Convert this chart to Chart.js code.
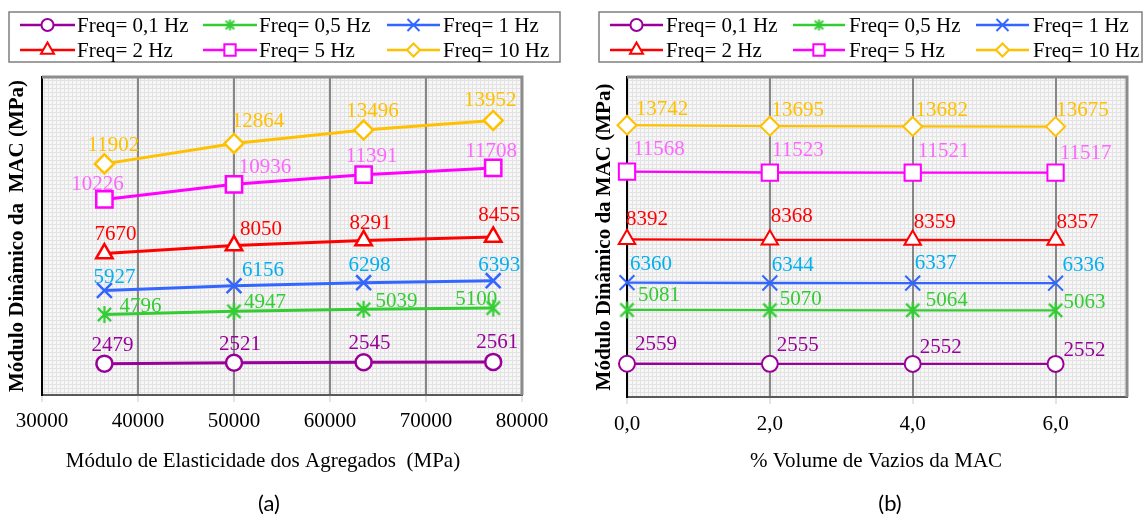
<!DOCTYPE html>
<html>
<head>
<meta charset="utf-8">
<script src="https://cdn.jsdelivr.net/npm/chart.js@4.4.0/dist/chart.umd.min.js"></script>
<style>
  html, body { margin: 0; padding: 0; background: #fff; }
  body { width: 1144px; height: 517px; position: relative; overflow: hidden; }
  .panel { position: absolute; top: 0; width: 572px; height: 490px; }
  #panelA { left: 0; }
  #panelB { left: 572px; }
  .caption { position: absolute; top: 490px; width: 100px; text-align: center; line-height: 26px;
             font-family: Lato, 'Open Sans', sans-serif; font-size: 22px; color: #000; }
</style>
</head>
<body>
<div class="panel" id="panelA"><canvas id="chartA" width="572" height="490"></canvas></div>
<div class="panel" id="panelB"><canvas id="chartB" width="572" height="490"></canvas></div>
<div class="caption" style="left:219px">(a)</div>
<div class="caption" style="left:840px">(b)</div>
<script>
const seriesNames = ['Freq= 0,1 Hz', 'Freq= 0,5 Hz', 'Freq= 1 Hz', 'Freq= 2 Hz', 'Freq= 5 Hz', 'Freq= 10 Hz'];

// (a) modulo dinamico x modulo dos agregados
const aggregateModulus = [36500, 50000, 63500, 77000];
const freq01A = [2479, 2521, 2545, 2561];
const freq05A = [4796, 4947, 5039, 5100];
const freq1A = [5927, 6156, 6298, 6393];
const freq2A = [7670, 8050, 8291, 8455];
const freq5A = [10226, 10936, 11391, 11708];
const freq10A = [11902, 12864, 13496, 13952];
const xTicksA = [30000, 40000, 50000, 60000, 70000, 80000];

// (b) modulo dinamico x volume de vazios
const voidVolume = [0, 2, 4, 6];
const freq01B = [2559, 2555, 2552, 2552];
const freq05B = [5081, 5070, 5064, 5063];
const freq1B = [6360, 6344, 6337, 6336];
const freq2B = [8392, 8368, 8359, 8357];
const freq5B = [11568, 11523, 11521, 11517];
const freq10B = [13742, 13695, 13682, 13675];
const xTicksB = [0, 2, 4, 6];
const xTickLabelsB = ['0,0', '2,0', '4,0', '6,0'];

const fontSerif = "'Liberation Serif', 'Times New Roman', serif";

// label offsets (dx, dy) from each point, per series
const labelShiftA = [
    [[8, -18], [6, -18], [6, -19], [4, -19]],
    [[36, -8], [31, -9], [33, -8], [-17, -9]],
    [[10, -13], [29, -15], [6, -17], [6, -15]],
    [[11, -19], [27, -16], [7, -17], [6, -21]],
    [[-7, -15], [31, -17], [8, -18], [-2, -17]],
    [[9, -18], [24, -22], [9, -19], [-3, -20]]
];
const labelShiftB = [
    [[29, -19], [28, -18], [28, -16], [29, -13]],
    [[32, -14], [31, -11], [34, -10], [29, -8]],
    [[24, -18], [23, -18], [23, -20], [28, -18]],
    [[20, -20], [22, -23], [22, -18], [22, -18]],
    [[32, -22], [28, -22], [31, -21], [30, -19]],
    [[35, -16], [28, -16], [29, -16], [27, -16]]
];

function asteriskImage(size, lw, color) {
    const c = document.createElement('canvas');
    c.width = size;
    c.height = size;
    const g = c.getContext('2d');
    g.strokeStyle = color;
    g.lineWidth = lw;
    const m = size / 2;
    const r = size / 2 - 1;
    const d = r * 0.78;
    g.beginPath();
    g.moveTo(m, m - r); g.lineTo(m, m + r);
    g.moveTo(m - d, m - d); g.lineTo(m + d, m + d);
    g.moveTo(m + d, m - d); g.lineTo(m - d, m + d);
    g.stroke();
    return c;
}

const seriesStyles = [
    { line: '#990099', label: '#990099', point: 'circle', radius: 8, legendRadius: 6 },
    { line: '#33CC33', label: '#33CC33', point: asteriskImage(19, 2.2, '#33CC33'), radius: 9,
      legendPoint: asteriskImage(13, 2, '#33CC33'), legendRadius: 6 },
    { line: '#3366FF', label: '#00B0F0', point: 'crossRot', radius: 10.5, legendRadius: 8.5 },
    { line: '#FF0000', label: '#FF0000', point: 'triangle', radius: 9.5, legendRadius: 7.5 },
    { line: '#FF00FF', label: '#FF66FF', point: 'rect', radius: 11.5, legendRadius: 8 },
    { line: '#FFC000', label: '#FFC000', point: 'rectRot', radius: 9.5, legendRadius: 6.5 }
];

function buildDatasets(xs, seriesList, lineWidth, markerWidth) {
    return seriesList.map((vals, i) => ({
        label: seriesNames[i],
        data: xs.map((x, j) => ({ x: x, y: vals[j] })),
        borderColor: seriesStyles[i].line,
        backgroundColor: '#ffffff',
        borderWidth: lineWidth,
        pointStyle: seriesStyles[i].point,
        pointRadius: seriesStyles[i].radius,
        pointHoverRadius: seriesStyles[i].radius,
        pointBorderColor: seriesStyles[i].line,
        pointBackgroundColor: '#ffffff',
        pointBorderWidth: markerWidth,
        tension: 0,
        fill: false,
        clip: false // markers on the axis must not be cut in half
    }));
}

let patternCache = null;
function plotPattern(ctx) {
    if (patternCache) return patternCache;
    const c = document.createElement('canvas');
    c.width = 4;
    c.height = 4;
    const g = c.getContext('2d');
    g.fillStyle = '#f7f7f7';
    g.fillRect(0, 0, 4, 4);
    g.fillStyle = '#e3e3e3';
    g.fillRect(0, 0, 4, 1);
    g.fillRect(0, 0, 1, 4);
    patternCache = ctx.createPattern(c, 'repeat');
    return patternCache;
}

const plotFrame = {
    id: 'plotFrame',
    beforeDraw(chart) {
        const { ctx, chartArea: a } = chart;
        ctx.save();
        ctx.fillStyle = plotPattern(ctx);
        ctx.fillRect(a.left, a.top, a.right - a.left, a.bottom - a.top);
        ctx.restore();
    },
    beforeDatasetsDraw(chart) {
        const { ctx, chartArea: a } = chart;
        ctx.save();
        ctx.strokeStyle = '#8c8c8c';
        ctx.lineWidth = 3;
        ctx.beginPath();
        ctx.moveTo(a.left, a.top);
        ctx.lineTo(a.right, a.top);
        ctx.lineTo(a.right, a.bottom);
        ctx.stroke();
        ctx.restore();
    }
};

function makeLabelPlugin(shifts) {
    return {
        id: 'pointLabels',
        afterDatasetsDraw(chart) {
            const ctx = chart.ctx;
            ctx.save();
            ctx.font = '21px ' + fontSerif;
            ctx.textAlign = 'center';
            ctx.textBaseline = 'middle';
            chart.data.datasets.forEach((ds, i) => {
                const meta = chart.getDatasetMeta(i);
                ctx.fillStyle = seriesStyles[i].label;
                meta.data.forEach((pt, j) => {
                    const s = shifts[i][j];
                    ctx.fillText(String(ds.data[j].y), pt.x + s[0], pt.y + s[1]);
                });
            });
            ctx.restore();
        }
    };
}

// x axis title, placed by hand (Excel does not center it on the plot)
function makeXTitlePlugin(text, cx, cy) {
    return {
        id: 'xTitle',
        afterDraw(chart) {
            const ctx = chart.ctx;
            ctx.save();
            ctx.font = '21px ' + fontSerif;
            ctx.fillStyle = '#000';
            ctx.textAlign = 'center';
            ctx.textBaseline = 'middle';
            ctx.fillText(text, cx, cy);
            ctx.restore();
        }
    };
}

function makeLegendPlugin(layout) {
    return {
        id: 'freqLegend',
        afterDraw(chart) {
            const ctx = chart.ctx;
            const b = layout.box;
            ctx.save();
            ctx.fillStyle = '#ffffff';
            ctx.fillRect(b.x, b.y, b.w, b.h);
            ctx.strokeStyle = '#7f7f7f';
            ctx.lineWidth = 1.5;
            ctx.strokeRect(b.x, b.y, b.w, b.h);
            ctx.font = '21px ' + fontSerif;
            ctx.textBaseline = 'middle';
            ctx.textAlign = 'left';
            seriesNames.forEach((name, i) => {
                const col = layout.cols[i % 3];
                const y = layout.rows[Math.floor(i / 3)];
                const st = seriesStyles[i];
                ctx.strokeStyle = st.line;
                ctx.lineWidth = 2.5;
                ctx.beginPath();
                ctx.moveTo(col.x0, y);
                ctx.lineTo(col.x1, y);
                ctx.stroke();
                ctx.fillStyle = '#ffffff';
                ctx.lineWidth = 2;
                Chart.helpers.drawPoint(ctx, {
                    pointStyle: st.legendPoint || st.point,
                    radius: st.legendRadius,
                    rotation: 0,
                    borderWidth: 2
                }, (col.x0 + col.x1) / 2, y);
                ctx.fillStyle = '#000000';
                ctx.fillText(name, col.tx, y + 1);
            });
            ctx.restore();
        }
    };
}

function makeChart(canvasId, cfg) {
    return new Chart(document.getElementById(canvasId), {
        type: 'line',
        data: { datasets: cfg.datasets },
        options: {
            responsive: false,
            animation: false,
            events: [],
            layout: { padding: { top: 77, left: 0, right: cfg.padRight, bottom: 0 } },
            plugins: { legend: { display: false }, tooltip: { enabled: false } },
            scales: {
                x: {
                    type: 'linear',
                    min: cfg.xMin,
                    max: cfg.xMax,
                    afterBuildTicks: s => { s.ticks = cfg.xTicks.map(v => ({ value: v })); },
                    afterFit: s => { s.height = cfg.xHeight; },
                    ticks: {
                        autoSkip: false,
                        maxRotation: 0,
                        padding: cfg.tickPad,
                        color: '#000',
                        font: { family: fontSerif, size: 21 },
                        callback: cfg.tickText
                    },
                    grid: { color: '#868686', lineWidth: 2, tickLength: 7, tickColor: '#c8c8c8', tickWidth: 1 },
                    border: { color: '#595959', width: 2 },
                    title: { display: false }
                },
                y: {
                    min: 1000,
                    max: 16000,
                    afterFit: s => { s.width = cfg.yWidth; },
                    ticks: { display: false },
                    grid: { display: false },
                    border: { color: '#000', width: 2 },
                    title: {
                        display: true,
                        text: cfg.yTitle,
                        color: '#000',
                        font: { family: fontSerif, size: 21, weight: 'bold' },
                        padding: { top: cfg.yTitlePad, bottom: 0 }
                    }
                }
            }
        },
        plugins: [plotFrame, makeLabelPlugin(cfg.shifts), makeLegendPlugin(cfg.legend),
                  makeXTitlePlugin(cfg.xTitle, cfg.xTitleX, 461)]
    });
}

makeChart('chartA', {
    datasets: buildDatasets(aggregateModulus, [freq01A, freq05A, freq1A, freq2A, freq5A, freq10A], 3, 2.5),
    xMin: 30000, xMax: 80000, xTicks: xTicksA,
    tickText: v => String(v),
    padRight: 50, xHeight: 95, yWidth: 42, tickPad: 7, yTitlePad: 5,
    xTitle: 'Módulo de Elasticidade dos Agregados  (MPa)', xTitleX: 263,
    yTitle: 'Módulo Dinâmico da  MAC (MPa)',
    shifts: labelShiftA,
    legend: {
        box: { x: 9, y: 12, w: 551, h: 50 },
        rows: [25, 50],
        cols: [{ x0: 20, x1: 75, tx: 77 }, { x0: 203, x1: 257, tx: 259 }, { x0: 387, x1: 440, tx: 443 }]
    }
});

makeChart('chartB', {
    datasets: buildDatasets(voidVolume, [freq01B, freq05B, freq1B, freq2B, freq5B, freq10B], 2.3, 2),
    xMin: 0, xMax: 7, xTicks: xTicksB,
    tickText: (v, i) => xTickLabelsB[i],
    padRight: 17, xHeight: 93, yWidth: 55, tickPad: 8, yTitlePad: 20,
    xTitle: '% Volume de Vazios da MAC', xTitleX: 304,
    yTitle: 'Módulo Dinâmico da MAC (MPa)',
    shifts: labelShiftB,
    legend: {
        box: { x: 27, y: 12, w: 543, h: 50 },
        rows: [25, 50],
        cols: [{ x0: 38, x1: 91, tx: 94 }, { x0: 221, x1: 273, tx: 277 }, { x0: 404, x1: 457, tx: 461 }]
    }
});
</script>
</body>
</html>
